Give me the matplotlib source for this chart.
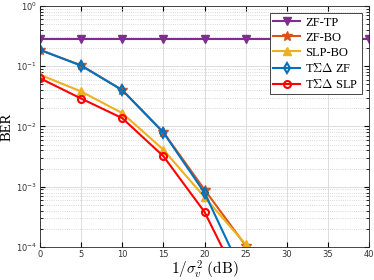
import matplotlib
matplotlib.use("Agg")
import matplotlib.pyplot as plt
import numpy as np

plt.rcParams['mathtext.fontset'] = 'cm'

snr = [0, 5, 10, 15, 20, 25]
snr_tp = [0, 5, 10, 15, 20, 25, 30, 35, 40]

ber_zf_tp = [0.28] * 9
ber_zf_bo = [0.186, 0.103, 0.040, 0.0080, 8.9e-4, 1.05e-4]
ber_slp_bo = [0.072, 0.038, 0.0166, 0.0041, 6.7e-4, 1.1e-4]
ber_tsd_zf = [0.186, 0.102, 0.040, 0.0079, 7.9e-4, 2.8e-5]
ber_tsd_slp = [0.063, 0.029, 0.0137, 0.0032, 3.8e-4, 1.6e-5]

fig = plt.figure(figsize=(3.74, 2.8), dpi=100)
ax = fig.add_axes([0.107, 0.118, 0.880, 0.861])

ax.semilogy(snr_tp, ber_zf_tp, color=(0.494, 0.184, 0.556), marker='v', lw=1.5, ms=6, label='ZF-TP')
ax.semilogy(snr, ber_zf_bo, color=(0.85, 0.325, 0.098), marker='*', lw=1.5, ms=7, label='ZF-BO')
ax.semilogy(snr, ber_slp_bo, color=(0.929, 0.694, 0.125), marker='^', lw=1.5, ms=6, label='SLP-BO')
ax.semilogy(snr, ber_tsd_zf, color=(0, 0.447, 0.741), marker='d', lw=1.5, ms=5, mfc='none', mew=1.5, label=r'T$\Sigma\Delta$ ZF')
ax.semilogy(snr, ber_tsd_slp, color=(1, 0, 0), marker='o', lw=1.5, ms=5, mfc='none', mew=1.5, label=r'T$\Sigma\Delta$ SLP')

ax.set_xlim(0, 40)
ax.set_ylim(1e-4, 1)
ax.set_xticks(range(0, 41, 5))
ax.tick_params(labelsize=6, labelcolor='#333333', direction='in', which='both', top=True, right=True, pad=2)
ax.grid(True, which='major', color='#dcdcdc', lw=0.7)
ax.grid(True, which='minor', color='#cccccc', ls=':', lw=0.6)
for s in ax.spines.values():
    s.set_color('#262626')
    s.set_linewidth(0.6)

ax.set_xlabel(r'$1/\sigma_v^2\ (\mathrm{dB})$', fontsize=11, labelpad=0)
ax.set_ylabel('BER', fontsize=10.5, family='Liberation Serif', labelpad=2)

leg = ax.legend(loc='upper right', prop={'family': 'Liberation Serif', 'size': 9},
                framealpha=1, fancybox=False, edgecolor='#262626',
                borderaxespad=0.6, handlelength=2.2, borderpad=0.25, labelspacing=0.25,
                handletextpad=0.4)
leg.get_frame().set_linewidth(0.6)

fig.savefig('out.png', dpi=100)
